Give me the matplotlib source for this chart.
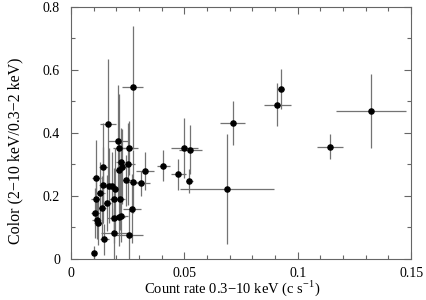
import numpy as np
import matplotlib
matplotlib.use("Agg")
import matplotlib.pyplot as plt
from matplotlib.ticker import MultipleLocator, FuncFormatter

plt.rcParams['font.family'] = ['Liberation Serif', 'DejaVu Serif']
plt.rcParams['mathtext.fontset'] = 'custom'
plt.rcParams['mathtext.rm'] = 'Liberation Serif'

# count rate (c/s), colour, and their errors
rate = [0.0326, 0.0407, 0.0473, 0.0500, 0.0526, 0.0522, 0.0687, 0.0712,
        0.0909, 0.0925, 0.1141, 0.1322,
        0.0272, 0.0164, 0.0207, 0.0213, 0.0257, 0.0253, 0.0219, 0.0224,
        0.0142, 0.0110, 0.0209, 0.0242, 0.0275, 0.0309, 0.0142, 0.0165,
        0.0180, 0.0194, 0.0128, 0.0109, 0.0187, 0.0216, 0.0157, 0.0135,
        0.0268, 0.0106, 0.0113, 0.0120, 0.0187, 0.0209, 0.0220, 0.0147,
        0.0191, 0.0257, 0.0101]
rate_err = [0.0040, 0.0030, 0.0034, 0.0060, 0.0050, 0.0015, 0.0207, 0.0055,
            0.0059, 0.0015, 0.0057, 0.0154,
            0.0046, 0.0035, 0.0045, 0.0030, 0.0040, 0.0030, 0.0020, 0.0020,
            0.0020, 0.0020, 0.0020, 0.0030, 0.0030, 0.0040, 0.0020, 0.0020,
            0.0020, 0.0020, 0.0020, 0.0020, 0.0020, 0.0020, 0.0020, 0.0020,
            0.0040, 0.0020, 0.0020, 0.0020, 0.0030, 0.0030, 0.0030, 0.0020,
            0.0060, 0.0060, 0.0010]
color = [0.278, 0.296, 0.268, 0.352, 0.346, 0.248, 0.221, 0.431,
         0.490, 0.540, 0.356, 0.470,
         0.545, 0.429, 0.375, 0.352, 0.352, 0.301, 0.307, 0.293,
         0.291, 0.256, 0.283, 0.249, 0.245, 0.240, 0.235, 0.233,
         0.230, 0.222, 0.209, 0.190, 0.190, 0.191, 0.177, 0.162,
         0.159, 0.145, 0.124, 0.114, 0.130, 0.132, 0.135, 0.062,
         0.081, 0.075, 0.020]
color_err = [0.060, 0.050, 0.050, 0.096, 0.078, 0.038, 0.174, 0.070,
             0.068, 0.064, 0.039, 0.117,
             0.195, 0.206, 0.177, 0.170, 0.087, 0.130, 0.110, 0.120,
             0.140, 0.120, 0.100, 0.080, 0.100, 0.040, 0.120, 0.120,
             0.110, 0.130, 0.100, 0.080, 0.100, 0.100, 0.090, 0.100,
             0.110, 0.080, 0.060, 0.070, 0.080, 0.090, 0.080, 0.050,
             0.080, 0.080, 0.020]

fig = plt.figure(figsize=(4.26, 3.0), dpi=100)
ax = fig.add_axes([0.167, 0.137, 0.798, 0.84])

ax.errorbar(rate, color, xerr=rate_err, yerr=color_err, fmt='none',
            ecolor='0.45', elinewidth=0.9, capsize=0, zorder=1)
ax.plot(rate, color, 'o', color='black', markersize=3.7, zorder=2)

ax.set_xlim(0, 0.15)
ax.set_ylim(0, 0.8)
ax.xaxis.set_major_locator(MultipleLocator(0.05))
ax.xaxis.set_minor_locator(MultipleLocator(0.01))
ax.yaxis.set_major_locator(MultipleLocator(0.2))
ax.yaxis.set_minor_locator(MultipleLocator(0.1))
fmt = FuncFormatter(lambda v, p: '%g' % round(v, 3))
ax.xaxis.set_major_formatter(fmt)
ax.yaxis.set_major_formatter(fmt)

ax.tick_params(which='both', direction='in', top=True, right=True,
               color='0.4', width=0.8, labelsize=10)
ax.tick_params(axis='x', pad=6)
ax.tick_params(axis='y', pad=8)
ax.tick_params(which='major', length=5)
ax.tick_params(which='minor', length=3)
for s in ax.spines.values():
    s.set_color('0.4')
    s.set_linewidth(0.8)

ax.set_xlabel(r'Count rate 0.3$-$10 keV (c s$^{-1}$)', fontsize=10.5)
ax.set_ylabel('Color (2\u221210 keV/0.3\u22122 keV)', fontsize=11.5)
ax.xaxis.set_label_coords(0.474, -0.079)
ax.yaxis.set_label_coords(-0.141, 0.43)

fig.savefig('out.png', dpi=100)
